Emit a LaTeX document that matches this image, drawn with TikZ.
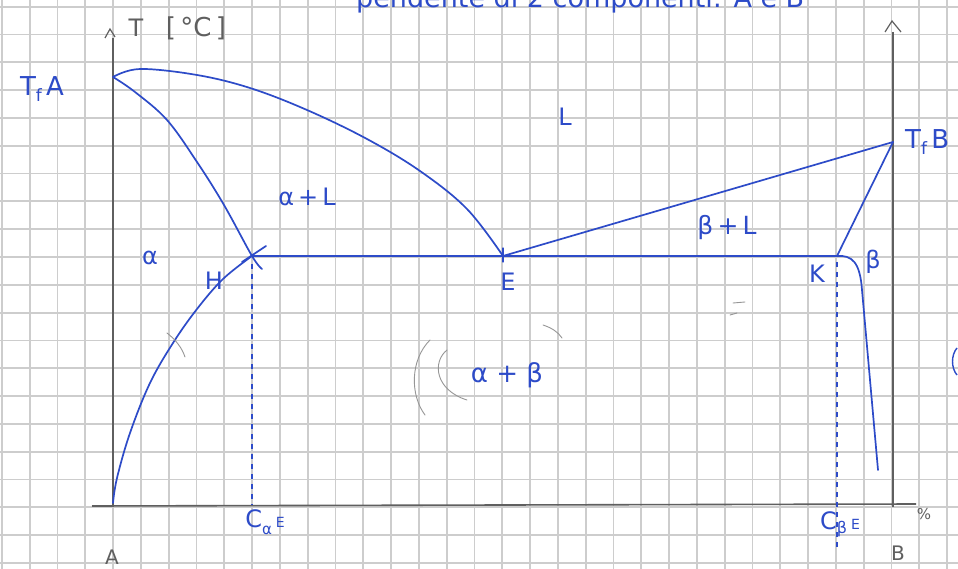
\documentclass[tikz,border=0pt]{standalone}
\usepackage{fontspec}
\setmainfont{DejaVu Sans}
\definecolor{ink}{RGB}{45,75,200}
\definecolor{gridc}{RGB}{205,205,205}
\definecolor{axisc}{RGB}{95,95,95}
\definecolor{pencil}{RGB}{150,150,150}
\begin{document}
\begin{tikzpicture}[x=1pt,y=-1pt,
  gridline/.style={gridc,line width=1.8pt},
  axisline/.style={axisc,line width=1.6pt},
  curve/.style={ink,line width=1.7pt,line cap=round,line join=round},
  dashv/.style={ink,line width=1.7pt,dash pattern=on 5pt off 5pt},
  lab/.style={ink,font=\fontsize{24}{24}\selectfont,inner sep=0pt},
  plab/.style={axisc,font=\fontsize{24}{24}\selectfont,inner sep=0pt},
  pmark/.style={pencil,line width=0.9pt,line cap=round}]
\useasboundingbox (0,0) rectangle (958,569);
\clip (0,0) rectangle (958,569);
\fill[white] (0,0) rectangle (958,569);
% grid paper
\foreach \i in {-4,...,30} \draw[gridline] ({113+27.8*\i},0) -- ++(0,569);
\foreach \j in {-9,...,11} \draw[gridline] (0,{257+27.8*\j}) -- ++(958,0);
% key points
\coordinate (TfA) at (113,77);
\coordinate (H) at (252,256);
\coordinate (E) at (503,256);
\coordinate (K) at (837,256);
\coordinate (TfB) at (893,142);
\coordinate (O) at (113,503);
\coordinate (Hb) at (252,505);
\coordinate (Kb) at (837,548);
\coordinate (Send) at (878,470);
% axes
\coordinate (LAtop) at (113,38);
\coordinate (LAbot) at (113,507);
\coordinate (RAtop) at (893,32);
\coordinate (RAbot) at (893,507);
\coordinate (HXl) at (92,506);
\coordinate (HXr) at (916,504);
\draw[axisline] (LAtop) -- (LAbot);
\draw[axisline] (RAtop) -- (RAbot);
\draw[axisline] (HXl) -- (HXr);
\draw[axisline,line width=1.2pt] (105,38) -- (110,29) -- (115,37);
\draw[axisline,line width=1.2pt] (885,32) -- (892,21) -- (901,32);
% title (cut off at the top, as in the reference)
\node[ink,font=\fontsize{27}{27}\selectfont,anchor=base west,inner sep=0pt] (title) at (356,8) {pendente di 2 componenti: A e B};
% axis labels
\node[plab] (Tlab) at (136,28) {T};
\node[plab,font=\fontsize{26}{26}\selectfont] (Tunit) at (196,28) {[\,°C\,]};
\node[plab,font=\fontsize{20}{20}\selectfont] (Alab) at (112,557) {A};
\node[plab,font=\fontsize{20}{20}\selectfont] (Blab) at (898,553) {B};
\node[plab,font=\fontsize{15}{15}\selectfont] (pct) at (924,514) {\%};
% liquidus
\draw[curve] plot[smooth,tension=0.6] coordinates {(TfA) (140,69) (197,75) (250,88) (307,110) (367,139) (420,171) (467,209) (E)};
\draw[curve] (E) -- (TfB);
% solidus
\draw[curve] plot[smooth,tension=0.6] coordinates {(TfA) (135,92) (167,120) (197,162) (224,205) (H) (262,269)};
\draw[curve] (K) -- (TfB);
% eutectic line
\draw[curve] (H) -- (K);
% solvus
\draw[curve] plot[smooth,tension=0.6] coordinates {(H) (223,279) (197,309) (173,343) (150,383) (130,433) (117,478) (O)};
\draw[curve] (K) .. controls (852,255) and (860,262) .. (862,290) -- (Send);
% cross at H, tick at E
\draw[curve] (266,246) -- (242,262);
\draw[curve,line width=1.2pt] (503,248) -- (503,262);
% dashed verticals
\draw[dashv] (252,264) -- (Hb);
\draw[dashv] (837,262) -- (Kb);
% labels
\node[lab,font=\fontsize{26}{26}\selectfont] (TfAlab) at (42,89) {T\raisebox{-0.45ex}{\fontsize{17}{17}\selectfont f}\,A};
\node[lab,font=\fontsize{26}{26}\selectfont,anchor=west] (TfBlab) at (905,142) {T\raisebox{-0.45ex}{\fontsize{17}{17}\selectfont f}\,B};
\node[lab] (Llab) at (565,117) {L};
\node[lab] (aL) at (307,197) {α\,+\,L};
\node[lab] (alab) at (150,258) {α};
\node[lab] (Hlab) at (214,281) {H};
\node[lab] (Elab) at (508,282) {E};
\node[lab,font=\fontsize{25}{25}\selectfont] (bL) at (727,228) {β\,+\,L};
\node[lab] (blab) at (873,262) {β};
\node[lab] (Klab) at (817,274) {K};
\node[lab,font=\fontsize{26}{26}\selectfont] (ab) at (507,375) {α + β};
\node[lab,font=\fontsize{24}{24}\selectfont] (Ca) at (265,522) {C\raisebox{-0.5ex}{\fontsize{15}{15}\selectfont α}\,\fontsize{14}{14}\selectfont E};
\node[lab,font=\fontsize{24}{24}\selectfont] (Cb) at (840,524) {C\raisebox{-0.3ex}{\fontsize{16}{16}\selectfont β}\,\fontsize{14}{14}\selectfont E};
% pencil marks
\draw[pmark] (430,340) .. controls (410,360) and (410,395) .. (425,415);
\draw[pmark] (447,350) .. controls (432,362) and (435,390) .. (467,400);
\draw[pmark] (543,325) .. controls (552,328) and (558,332) .. (562,338);
\draw[pmark] (167,333) .. controls (176,340) and (182,348) .. (185,357);
\draw[pmark] (733,303) -- (745,302);
\draw[pmark] (730,315) -- (737,313);
\draw[ink,line width=1.4pt] (957,348) .. controls (951,355) and (951,368) .. (957,375);
\end{tikzpicture}
\end{document}
